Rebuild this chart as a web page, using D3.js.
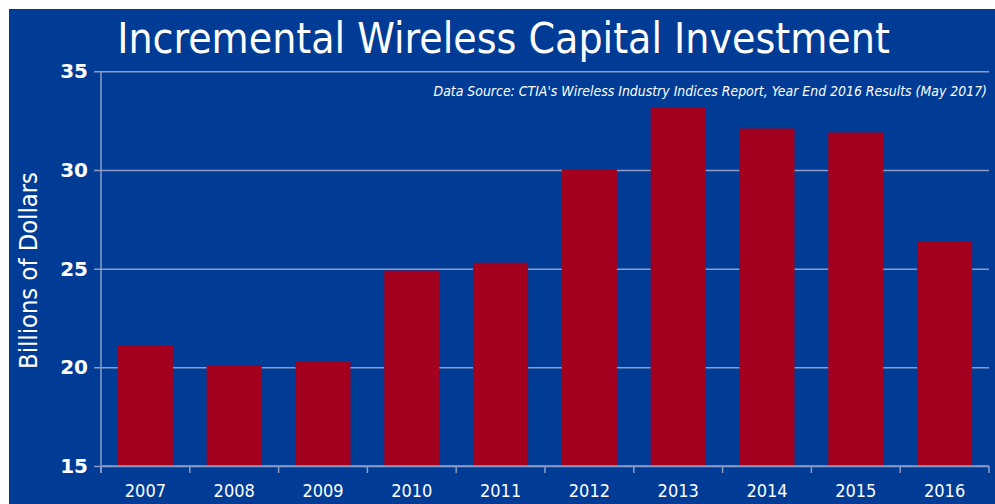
<!DOCTYPE html>
<html>
<head>
    <meta charset="utf-8">
    <script src="https://d3js.org/d3.v7.min.js"></script>
    <style>
        body { margin: 0; background: white; }
    </style>
</head>
<body>
    <div id="chart"></div>
    <script>
        // data
        var years = ["2007", "2008", "2009", "2010", "2011", "2012", "2013", "2014", "2015", "2016"];
        var investment = [21.1, 20.1, 20.3, 24.9, 25.3, 30.05, 33.15, 32.1, 31.9, 26.4];
        var yTicks = [15, 20, 25, 30, 35];

        var W = 995, H = 504;
        var margin = { top: 71.3, right: 6, bottom: 38, left: 101 };
        var width = W - margin.left - margin.right,
            height = H - margin.top - margin.bottom;

        var bg = "#003c96", barColor = "#a30020", gridColor = "#8c9cc6";
        var font = "'DejaVu Sans', Tahoma, Verdana, sans-serif";
        var condensed = "'DejaVu Sans Condensed', 'DejaVu Sans', sans-serif";

        var svg = d3.select("#chart").append("svg")
            .attr("width", W)
            .attr("height", H);

        // shrink/grow a text's font size so it spans the wanted width
        function fitWidth(sel, target, startSize) {
            sel.style("font-size", startSize + "px");
            var w = sel.node().getComputedTextLength();
            sel.style("font-size", (startSize * target / w) + "px");
        }

        // blue panel with white strip at top/left
        svg.append("rect")
            .attr("x", 9).attr("y", 9)
            .attr("width", W - 9).attr("height", H - 9)
            .attr("fill", bg);

        var title = svg.append("text")
            .attr("x", 503.5).attr("y", 53)
            .attr("text-anchor", "middle")
            .style("font-family", condensed)
            .style("fill", "white")
            .text("Incremental Wireless Capital Investment");
        fitWidth(title, 773, 44);

        var g = svg.append("g")
            .attr("transform", "translate(" + margin.left + "," + margin.top + ")");

        var x = d3.scaleBand()
            .domain(years)
            .range([0, width])
            .paddingInner(0.38)
            .paddingOuter(0.19);

        var y = d3.scaleLinear()
            .domain([15, 35])
            .range([height, 0]);

        // gridlines + left ticks
        g.append("g")
            .call(d3.axisLeft(y).tickValues(yTicks).tickSize(-width).tickSizeOuter(0).tickPadding(13))
            .call(function (a) {
                a.select(".domain").remove();
                a.selectAll(".tick line")
                    .attr("x1", -7)
                    .attr("stroke", gridColor)
                    .attr("stroke-width", 1.5);
                a.selectAll(".tick text")
                    .style("font-family", font)
                    .style("font-size", "20px")
                    .style("font-weight", "bold")
                    .style("fill", "white");
            });

        // bars
        g.selectAll(".bar")
            .data(years.map(function (d, i) { return { year: d, value: investment[i] }; }))
            .enter()
            .append("rect")
            .attr("class", "bar")
            .attr("x", function (d) { return x(d.year); })
            .attr("y", function (d) { return y(d.value); })
            .attr("width", x.bandwidth())
            .attr("height", function (d) { return height - y(d.value); })
            .attr("fill", barColor);

        // left axis line
        g.append("line")
            .attr("x1", 0).attr("x2", 0)
            .attr("y1", 0).attr("y2", height + 7)
            .attr("stroke", gridColor)
            .attr("stroke-width", 1.5);

        // bottom axis with ticks at band edges
        var bottom = g.append("g")
            .attr("transform", "translate(0," + height + ")");

        bottom.append("line")
            .attr("x1", 0).attr("x2", width)
            .attr("stroke", gridColor)
            .attr("stroke-width", 1.5);

        var edges = years.map(function (d) { return x(d) - x.step() * x.paddingInner() / 2; }).concat([width]);
        bottom.selectAll(".edge")
            .data(edges)
            .enter()
            .append("line")
            .attr("x1", function (d) { return d; })
            .attr("x2", function (d) { return d; })
            .attr("y1", 0).attr("y2", 7)
            .attr("stroke", gridColor)
            .attr("stroke-width", 1.5);

        bottom.selectAll(".lbl")
            .data(years)
            .enter()
            .append("text")
            .attr("x", function (d) { return x(d) + x.bandwidth() / 2; })
            .attr("y", 31)
            .attr("text-anchor", "middle")
            .style("font-family", condensed)
            .style("font-size", "18px")
            .style("fill", "white")
            .text(function (d) { return d; });

        // y axis title
        var ylab = svg.append("text")
            .attr("transform", "translate(37,270.5) rotate(-90)")
            .attr("text-anchor", "middle")
            .style("font-family", condensed)
            .style("fill", "white")
            .text("Billions of Dollars");
        fitWidth(ylab, 197, 25);

        // source note
        var note = svg.append("text")
            .attr("x", 987).attr("y", 96)
            .attr("text-anchor", "end")
            .style("font-family", condensed)
            .style("font-style", "italic")
            .style("fill", "white")
            .text("Data Source: CTIA's Wireless Industry Indices Report, Year End 2016 Results (May 2017)");
        fitWidth(note, 554, 13.5);
    </script>
</body>
</html>
